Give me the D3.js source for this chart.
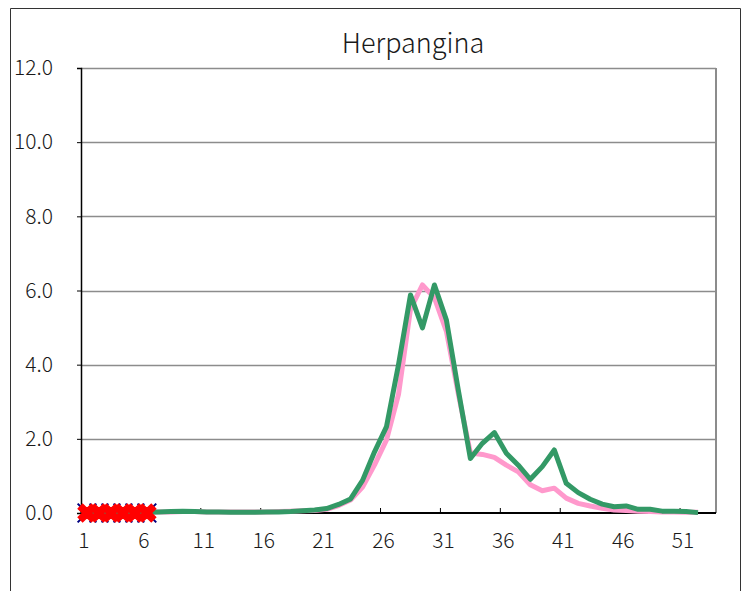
<!DOCTYPE html>
<html>
<head>
<meta charset="utf-8">
<script src="https://cdn.jsdelivr.net/npm/d3@7"></script>
<style>
  body { margin: 0; background: #fff; }
  text { font-family: "Noto Sans CJK JP", "Noto Sans", sans-serif; font-weight: 300; fill: #1a1a1a; }
</style>
</head>
<body>
<svg id="chart" width="751" height="591"></svg>
<script>
// weeks 1..53 on the category axis, labelled every 5th
var weeks = d3.range(1, 54);
var weekLabels = [1, 6, 11, 16, 21, 26, 31, 36, 41, 46, 51];
var yTicks = [0, 2, 4, 6, 8, 10, 12];

// previous season (pink)
var lastYear = [0.03, 0.03, 0.03, 0.03, 0.03, 0.03, 0.03, 0.03, 0.04, 0.04,
                0.03, 0.03, 0.03, 0.03, 0.03, 0.03, 0.04, 0.05, 0.06, 0.07,
                0.10, 0.20, 0.35, 0.70, 1.30, 1.97, 3.20, 5.50, 6.15, 5.80,
                4.90, 3.20, 1.62, 1.58, 1.50, 1.29, 1.11, 0.76, 0.60, 0.67,
                0.40, 0.26, 0.19, 0.13, 0.08, 0.07, 0.05, 0.04, 0.03, 0.03,
                0.02, 0.02];
// this season (green)
var thisYear = [0.02, 0.02, 0.02, 0.02, 0.02, 0.02, 0.03, 0.04, 0.05, 0.04,
                0.03, 0.03, 0.02, 0.02, 0.02, 0.03, 0.03, 0.04, 0.06, 0.08,
                0.12, 0.23, 0.38, 0.88, 1.65, 2.33, 4.00, 5.88, 4.99, 6.15,
                5.20, 3.30, 1.47, 1.88, 2.17, 1.61, 1.29, 0.91, 1.25, 1.70,
                0.80, 0.55, 0.37, 0.24, 0.17, 0.19, 0.10, 0.10, 0.05, 0.05,
                0.04, 0.01];
// current reports so far (markers)
var current = [0, 0, 0, 0, 0, 0];
var currentAlt = [0, 0, 0, 0, 0, 0];

var svg = d3.select("#chart");

var x = d3.scaleBand().domain(weeks).range([81, 716]).padding(0);
var y = d3.scaleLinear().domain([0, 12]).range([513, 68]);
function cx(d, i) { return x(weeks[i]) + x.bandwidth() / 2; }

// outer chart frame
svg.append("path")
   .attr("d", "M10.5,600 V8.5 H740.5 V600")
   .attr("fill", "none")
   .attr("stroke", "#333")
   .attr("stroke-width", 1);

svg.append("text")
   .attr("x", 413)
   .attr("y", 53)
   .attr("text-anchor", "middle")
   .attr("font-size", 27)
   .text("Herpangina");

// grid
svg.selectAll("line.grid")
   .data(yTicks.filter(function(d){ return d > 0; }))
   .enter()
   .append("line")
   .attr("class", "grid")
   .attr("x1", 81).attr("x2", 716)
   .attr("y1", function(d){ return Math.round(y(d)) + 0.5; })
   .attr("y2", function(d){ return Math.round(y(d)) + 0.5; })
   .attr("stroke", "#8c8c8c")
   .attr("stroke-width", 1.3);

// right border of plot
svg.append("line")
   .attr("x1", 716).attr("x2", 716)
   .attr("y1", 68).attr("y2", 513)
   .attr("stroke", "#8c8c8c")
   .attr("stroke-width", 2);

// y axis
var yAxis = d3.axisLeft(y).tickValues(yTicks).tickSize(4).tickPadding(24)
              .tickFormat(d3.format(".1f"));
var gy = svg.append("g").attr("transform", "translate(81,0)").call(yAxis);
gy.select(".domain").attr("stroke", "#000").attr("stroke-width", 1.5);
gy.selectAll(".tick line").attr("stroke", "#000");
gy.selectAll("text").attr("font-size", 21).attr("fill", "#1a1a1a")
  .attr("font-family", "'Noto Sans CJK JP', 'Noto Sans', sans-serif");

// x axis: ticks on category boundaries, labels on the categories
var xb = d3.scaleLinear().domain([0, 53]).range([81, 716]);
var gx = svg.append("g").attr("transform", "translate(0,513)");
gx.append("line")
  .attr("x1", 81).attr("x2", 716)
  .attr("stroke", "#000").attr("stroke-width", 2);
gx.selectAll("line.tk")
  .data(d3.range(0, 51, 5))
  .enter()
  .append("line")
  .attr("class", "tk")
  .attr("x1", function(d){ return xb(d); })
  .attr("x2", function(d){ return xb(d); })
  .attr("y1", 0).attr("y2", -5)
  .attr("stroke", "#000");
gx.selectAll("text")
  .data(weekLabels)
  .enter()
  .append("text")
  .attr("x", function(d){ return x(d) + x.bandwidth() / 2 - 3; })
  .attr("y", 35)
  .attr("text-anchor", "middle")
  .attr("font-size", 21)
  .text(function(d){ return d; });

var line = d3.line().x(cx).y(function(d){ return y(d); });

svg.append("path")
   .datum(lastYear)
   .attr("d", line)
   .attr("fill", "none")
   .attr("stroke", "#ff99cc")
   .attr("stroke-width", 5)
   .attr("stroke-linejoin", "round");

svg.append("path")
   .datum(thisYear)
   .attr("d", line)
   .attr("fill", "none")
   .attr("stroke", "#339966")
   .attr("stroke-width", 5)
   .attr("stroke-linejoin", "round");

// blue x markers
svg.selectAll("path.bx")
   .data(currentAlt)
   .enter()
   .append("path")
   .attr("class", "bx")
   .attr("d", d3.symbol().type(d3.symbolX).size(230))
   .attr("transform", function(d, i){ return "translate(" + cx(d, i) + "," + y(d) + ")"; })
   .attr("fill", "none")
   .attr("stroke", "#000080")
   .attr("stroke-width", 2);

// red markers
svg.selectAll("path.rx")
   .data(current)
   .enter()
   .append("path")
   .attr("class", "rx")
   .attr("d", d3.symbol().type(d3.symbolCross).size(190))
   .attr("transform", function(d, i){ return "translate(" + cx(d, i) + "," + y(d) + ") rotate(45)"; })
   .attr("fill", "#ff0000")
   .attr("stroke", "#ff0000")
   .attr("stroke-width", 1.5);
</script>
</body>
</html>
